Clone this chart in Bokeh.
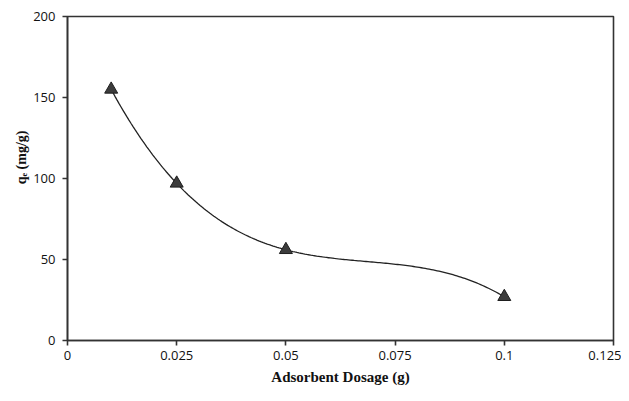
import numpy as np
from bokeh.plotting import figure
from bokeh.models import Range1d, FixedTicker, Title
from bokeh.embed import file_html
from bokeh.resources import INLINE

# Data
dosage = [0.01, 0.025, 0.05, 0.1]
qe = [155, 97, 56, 27]
x_ticks = [0, 0.025, 0.05, 0.075, 0.1, 0.125]
x_tick_labels = ["0", "0.025", "0.05", "0.075", "0.1", "0.125"]
y_ticks = [0, 50, 100, 150, 200]
x_title = "Adsorbent Dosage (g)"
y_title = "qₑ (mg/g)"

# Cubic polynomial trendline through the points
coef = np.polyfit(dosage, qe, 3)
xs = np.linspace(min(dosage), max(dosage), 200)
ys = np.polyval(coef, xs)

p = figure(width=621, height=393, output_backend="svg",
           toolbar_location=None,
           x_range=Range1d(0, 0.125), y_range=Range1d(0, 200),
           min_border_left=67, min_border_top=16, min_border_right=8,
           min_border_bottom=53)
p.background_fill_color = "white"
p.border_fill_color = "white"
p.outline_line_color = "#333333"
p.outline_line_width = 1.6
p.xgrid.visible = False
p.ygrid.visible = False

p.line(xs, ys, line_color="#222222", line_width=1.3)
p.scatter(dosage, qe, marker="triangle", size=13, fill_color="#3c3c3c",
          line_color="#1e1e1e", line_width=1)

for ax in (p.xaxis[0], p.yaxis[0]):
    ax.axis_line_color = "#333333"
    ax.axis_line_width = 1.6
    ax.major_tick_line_color = "#333333"
    ax.major_tick_line_width = 1.6
    ax.major_tick_out = 5
    ax.major_tick_in = 0
    ax.minor_tick_line_color = None
    ax.major_label_text_font = "Open Sans"
    ax.major_label_text_font_size = "13px"
    ax.major_label_text_color = "#111111"

p.xaxis.ticker = FixedTicker(ticks=x_ticks)
p.xaxis.major_label_overrides = {t: l for t, l in zip(x_ticks, x_tick_labels)}
p.yaxis.ticker = FixedTicker(ticks=y_ticks)
p.xaxis.major_label_standoff = 5
p.yaxis.major_label_standoff = 7

xt = Title(text=x_title, align="center", standoff=9,
           text_font="Liberation Serif", text_font_style="bold",
           text_font_size="15px", text_color="#111111")
yt = Title(text=y_title, align="right", offset=114, standoff=4,
           text_font="Liberation Serif", text_font_style="bold",
           text_font_size="14px", text_color="#111111")
p.add_layout(xt, "below")
p.add_layout(yt, "left")

open("out.html", "w").write(file_html(p, INLINE))
